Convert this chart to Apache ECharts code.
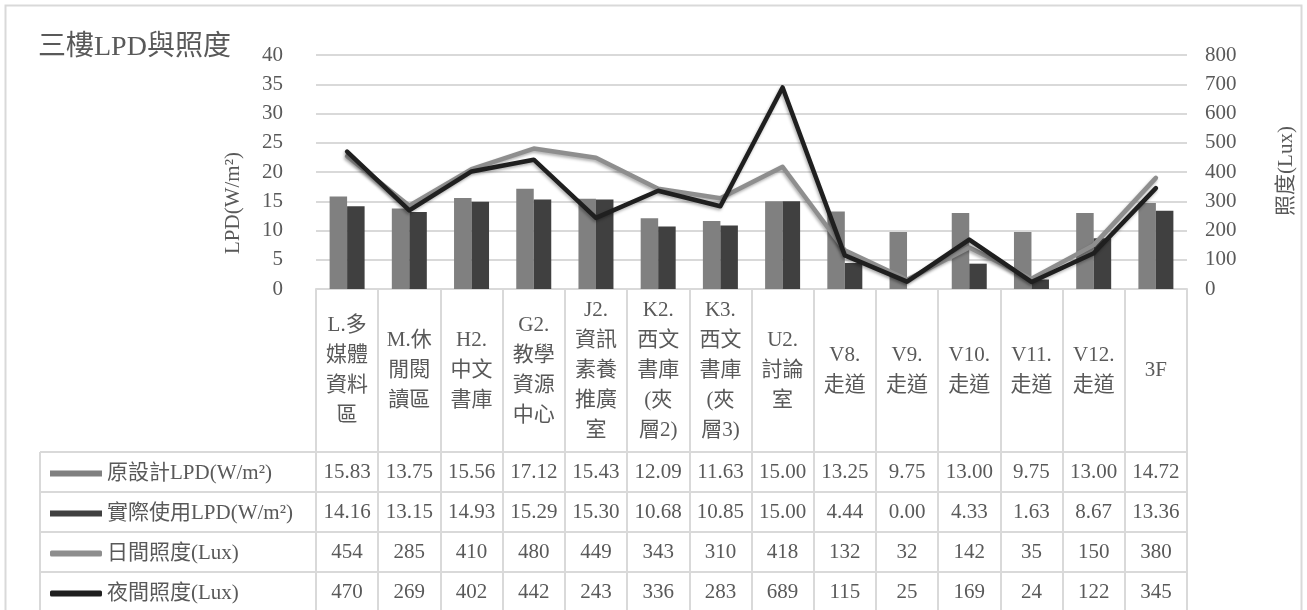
<!DOCTYPE html>
<html>
<head>
<meta charset="utf-8">
<style>
  html, body { margin: 0; padding: 0; background: #fff; }
  #chart { width: 1307px; height: 610px; }
</style>
<script src="https://cdn.jsdelivr.net/npm/echarts@6/dist/echarts.min.js"></script>
</head>
<body>
<div id="chart"></div>
<script>
// 三樓各區域 LPD 與照度
const categories = [
  'L.多\n媒體\n資料\n區', 'M.休\n閒閱\n讀區', 'H2.\n中文\n書庫', 'G2.\n教學\n資源\n中心',
  'J2.\n資訊\n素養\n推廣\n室', 'K2.\n西文\n書庫\n(夾\n層2)', 'K3.\n西文\n書庫\n(夾\n層3)',
  'U2.\n討論\n室', 'V8.\n走道', 'V9.\n走道', 'V10.\n走道', 'V11.\n走道', 'V12.\n走道', '3F'
];
const designLPD = [15.83, 13.75, 15.56, 17.12, 15.43, 12.09, 11.63, 15.00, 13.25, 9.75, 13.00, 9.75, 13.00, 14.72];
const actualLPD = [14.16, 13.15, 14.93, 15.29, 15.30, 10.68, 10.85, 15.00, 4.44, 0.00, 4.33, 1.63, 8.67, 13.36];
const dayLux = [454, 285, 410, 480, 449, 343, 310, 418, 132, 32, 142, 35, 150, 380];
const nightLux = [470, 269, 402, 442, 243, 336, 283, 689, 115, 25, 169, 24, 122, 345];

const seriesNames = ['原設計LPD(W/m²)', '實際使用LPD(W/m²)', '日間照度(Lux)', '夜間照度(Lux)'];
const seriesColors = ['#808080', '#404040', '#8e8e8e', '#1f1f1f'];
const chartTitle = '三樓LPD與照度';
const leftAxisName = 'LPD(W/m²)';
const rightAxisName = '照度(Lux)';

const FONT = "'Liberation Serif', 'Noto Sans CJK TC', serif";
const TEXT = '#595959';
const RULE = '#d9d9d9';

// plot area and table geometry
const G = { left: 316, right: 1187, top: 55, bottom: 289 };
const headerBottom = 452, rowH = 40, legendLeft = 40;

const tableRows = [
  designLPD.map(v => v.toFixed(2)),
  actualLPD.map(v => v.toFixed(2)),
  dayLux.map(String),
  nightLux.map(String)
];

const chart = echarts.init(document.getElementById('chart'), null, { renderer: 'canvas' });

const xAxes = [{
  type: 'category',
  data: categories,
  gridIndex: 0,
  position: 'bottom',
  axisLine: { show: true, lineStyle: { color: RULE, width: 2 } },
  axisTick: { show: true, interval: 0, length: 323, lineStyle: { color: RULE, width: 2 } },
  axisLabel: {
    interval: 0, margin: (headerBottom - G.bottom) / 2, verticalAlign: 'middle',
    fontFamily: FONT, fontSize: 21, lineHeight: 30, color: TEXT, align: 'center'
  },
  splitLine: { show: false }
}];
tableRows.forEach((row, k) => {
  xAxes.push({
    type: 'category',
    data: row,
    gridIndex: 0,
    position: 'bottom',
    offset: headerBottom - G.bottom + rowH * k,
    axisLine: { show: false },
    axisTick: { show: false },
    axisLabel: {
      interval: 0, margin: rowH / 2, verticalAlign: 'middle',
      fontFamily: FONT, fontSize: 21, color: TEXT
    },
    splitLine: { show: false }
  });
});

// table rules and axis names
const graphics = [
  { type: 'rect', shape: { x: 5.5, y: 5.5, width: 1296, height: 640 }, style: { fill: 'none', stroke: RULE, lineWidth: 2 }, silent: true },
  { type: 'line', shape: { x1: legendLeft, y1: headerBottom, x2: legendLeft, y2: headerBottom + rowH * 4 }, style: { stroke: RULE, lineWidth: 2 }, silent: true },
  {
    type: 'text', x: 233, y: 203, rotation: Math.PI / 2,
    style: { text: leftAxisName, font: '21px ' + FONT, fill: TEXT, align: 'center', verticalAlign: 'middle' }
  },
  {
    type: 'text', x: 1286, y: 171, rotation: Math.PI / 2,
    style: { text: rightAxisName, font: '21px ' + FONT, fill: TEXT, align: 'center', verticalAlign: 'middle' }
  }
];
for (let k = 0; k < 4; k++) {
  const y = headerBottom + rowH * k;
  graphics.push({ type: 'line', shape: { x1: legendLeft, y1: y, x2: G.right, y2: y }, style: { stroke: RULE, lineWidth: 2 }, silent: true });
}

const lineShadow = { shadowColor: 'rgba(0,0,0,0.3)', shadowBlur: 3, shadowOffsetX: -1, shadowOffsetY: 2 };

chart.setOption({
  animation: false,
  backgroundColor: '#fff',
  textStyle: { fontFamily: FONT },
  title: {
    text: chartTitle, left: 33, top: 29,
    textStyle: { fontFamily: FONT, fontSize: 28, fontWeight: 'normal', color: TEXT }
  },
  grid: { left: G.left, right: 1307 - G.right, top: G.top, bottom: 610 - G.bottom, containLabel: false },
  legend: {
    orient: 'vertical', left: 45, top: 458, height: 200, itemGap: 19,
    itemWidth: 52, itemHeight: 6,
    textStyle: { fontFamily: FONT, fontSize: 21, lineHeight: 21, color: TEXT },
    data: seriesNames.map((n, i) => ({ name: n, icon: i < 2 ? 'rect' : 'roundRect' }))
  },
  xAxis: xAxes,
  yAxis: [{
    type: 'value', min: 0, max: 40, interval: 5, position: 'left',
    axisLine: { show: false }, axisTick: { show: false },
    axisLabel: { margin: 33, fontFamily: FONT, fontSize: 21, color: TEXT },
    splitLine: { show: true, lineStyle: { color: RULE, width: 2 } }
  }, {
    type: 'value', min: 0, max: 800, interval: 100, position: 'right',
    axisLine: { show: false }, axisTick: { show: false },
    axisLabel: { margin: 18, fontFamily: FONT, fontSize: 21, color: TEXT },
    splitLine: { show: false }
  }],
  series: [{
    name: seriesNames[0], type: 'bar', yAxisIndex: 0, data: designLPD,
    barWidth: 17.5, barGap: '0%', itemStyle: { color: seriesColors[0] }
  }, {
    name: seriesNames[1], type: 'bar', yAxisIndex: 0, data: actualLPD,
    barWidth: 17.5, barGap: '0%', itemStyle: { color: seriesColors[1] }
  }, {
    name: seriesNames[2], type: 'line', yAxisIndex: 1, data: dayLux,
    symbol: 'none', itemStyle: { color: seriesColors[2] },
    lineStyle: Object.assign({ color: seriesColors[2], width: 4.5, cap: 'round', join: 'round' }, lineShadow)
  }, {
    name: seriesNames[3], type: 'line', yAxisIndex: 1, data: nightLux,
    symbol: 'none', itemStyle: { color: seriesColors[3] },
    lineStyle: Object.assign({ color: seriesColors[3], width: 4.5, cap: 'round', join: 'round' }, lineShadow)
  }],
  graphic: graphics
});
</script>
</body>
</html>
